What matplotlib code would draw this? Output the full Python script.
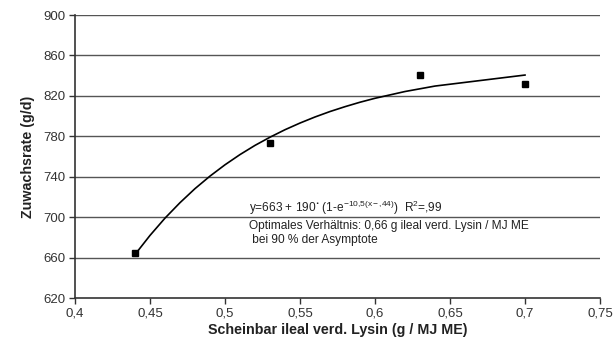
import matplotlib.pyplot as plt

plt.rcParams['font.family'] = ['Liberation Sans', 'DejaVu Sans']
plt.rcParams['mathtext.fontset'] = 'custom'
plt.rcParams['mathtext.rm'] = 'Liberation Sans'
plt.rcParams['mathtext.it'] = 'Liberation Sans'

# measured points
lysin = [0.44, 0.53, 0.63, 0.70]
zuwachs = [665, 773, 841, 832]

# trend line as drawn in the chart
fit_x = [0.44, 0.45, 0.46, 0.47, 0.48, 0.49, 0.50, 0.51, 0.52, 0.53, 0.54,
         0.55, 0.56, 0.57, 0.58, 0.59, 0.60, 0.62, 0.64, 0.70]
fit_y = [663, 681.9, 699.0, 714.3, 728.2, 740.6, 751.8, 761.9, 771.0, 779.1,
         786.5, 793.1, 799.1, 804.5, 809.3, 813.7, 817.6, 824.3, 829.7, 840.6]

x_ticks = [0.4, 0.45, 0.5, 0.55, 0.6, 0.65, 0.7, 0.75]
x_labels = ['0,4', '0,45', '0,5', '0,55', '0,6', '0,65', '0,7', '0,75']
y_ticks = [620, 660, 700, 740, 780, 820, 860, 900]

fig = plt.figure(figsize=(6.13, 3.45), dpi=100)
ax = fig.add_axes([0.1223, 0.1362, 0.8565, 0.8203])

for yt in y_ticks[1:]:
    ax.axhline(yt, color='#555555', lw=1.0, zorder=1)

ax.plot(fit_x, fit_y, color='black', lw=1.2, zorder=3)
ax.plot(lysin, zuwachs, ls='none', marker='s', ms=4.5, color='black', zorder=4)

ax.set_xlim(0.4, 0.75)
ax.set_ylim(620, 900)
ax.set_xticks(x_ticks)
ax.set_xticklabels(x_labels)
ax.set_yticks(y_ticks)
ax.tick_params(axis='both', direction='out', length=4, width=1, colors='#333333',
               labelcolor='#333333', labelsize=9.5, pad=3)

for s in ['top', 'right']:
    ax.spines[s].set_visible(False)
for s in ['left', 'bottom']:
    ax.spines[s].set_color('#333333')
    ax.spines[s].set_linewidth(1.2)

ax.set_xlabel('Scheinbar ileal verd. Lysin (g / MJ ME)', fontsize=10.3,
              fontweight='bold', color='#222222', labelpad=2)
ax.set_ylabel('Zuwachsrate (g/d)', fontsize=10.3, fontweight='bold',
              color='#222222', labelpad=6)

ax.text(0.516, 705, r'y=663 + 190$^{\mathbf{\cdot}}$ (1-e$^{-10{,}5(x-{,}44)}$)  R$^{2}$=,99',
        fontsize=8.6, color='#222222', va='baseline')
ax.text(0.516, 688, 'Optimales Verhältnis: 0,66 g ileal verd. Lysin / MJ ME',
        fontsize=8.6, color='#222222', va='baseline')
ax.text(0.516, 674, ' bei 90 % der Asymptote',
        fontsize=8.6, color='#222222', va='baseline')

fig.savefig('out.png', dpi=100)
